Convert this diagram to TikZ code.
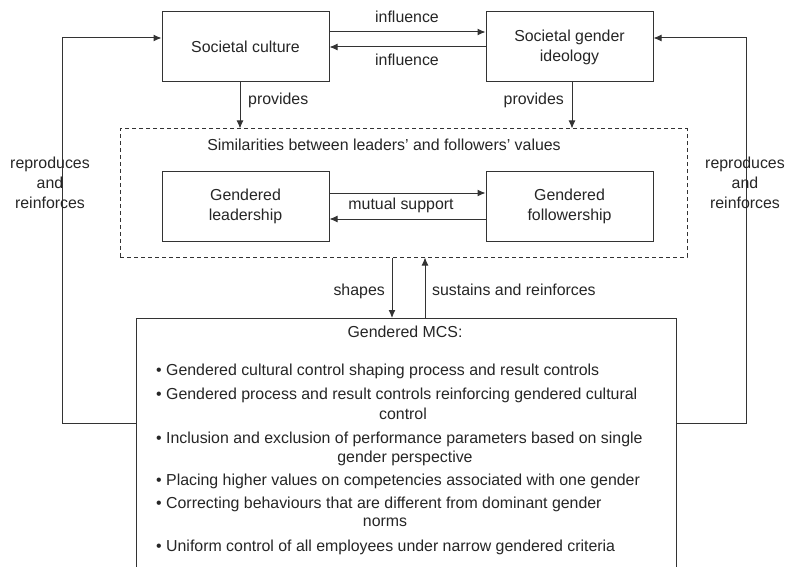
\documentclass[tikz,border=0pt]{standalone}
\usepackage{fontspec}
\setmainfont{Liberation Sans}
\usetikzlibrary{arrows.meta}
\begin{document}
\begin{tikzpicture}[x=1pt,y=-1pt,
  every node/.style={font=\fontsize{15.9}{20}\selectfont, text=black!85},
  box/.style={draw=black!80, line width=1pt, minimum width=167pt, minimum height=70pt, align=center, inner sep=0pt},
  dbox/.style={draw=black!80, line width=1pt, dashed, dash pattern=on 4pt off 3pt, minimum width=567pt, minimum height=128pt, inner sep=0pt},
  conn/.style={draw=black!80, line width=1pt},
  arr/.style={conn, -{Latex[length=8pt,width=7pt]}},
  lbl/.style={inner sep=0pt},
  item/.style={inner sep=0pt, anchor=mid west},
  cont/.style={inner sep=0pt, anchor=mid}]
\useasboundingbox (0,0) rectangle (787,567);
\clip (0,0) rectangle (787,567);
\fill[white] (0,0) rectangle (787,567);

% boxes
\node[box] (cult) at (245.5,47) {Societal culture};
\node[box] (ideo) at (569.5,47) {Societal gender\\ideology};
\node[dbox] (sim) at (403.5,193) {};
\node[box] (lead) at (245.5,206) {Gendered\\leadership};
\node[box] (foll) at (569.5,206) {Gendered\\followership};
\node[draw=black!80, line width=1pt, minimum width=540pt, minimum height=280pt, anchor=north, inner sep=0pt] (mcs) at (406,318) {};

% influence
\draw[arr] (cult.east |- 0,32) -- (ideo.west |- 0,32);
\draw[arr] (ideo.west |- 0,47) -- (cult.east |- 0,47);
\node[lbl] (inf1) at (407,17) {influence};
\node[lbl] (inf2) at (407,60) {influence};

% provides
\draw[arr] (cult.south -| 240,0) -- (sim.north -| 240,0);
\draw[arr] (ideo.south -| 572,0) -- (sim.north -| 572,0);
\node[lbl, anchor=mid west] (prov1) at (248,102) {provides};
\node[lbl, anchor=mid east] (prov2) at (564,102) {provides};

% similarities
\node[lbl] (simt) at (384,145) {Similarities between leaders’ and followers’ values};

% mutual support
\draw[arr] (lead.east |- 0,193) -- (foll.west |- 0,193);
\draw[arr] (foll.west |- 0,219) -- (lead.east |- 0,219);
\node[lbl, anchor=mid] (mut) at (401,207) {mutual support};

% shapes / sustains
\draw[arr] (sim.south -| 392,0) -- (mcs.north -| 392,0);
\draw[arr] (mcs.north -| 425,0) -- (sim.south -| 425,0);
\node[lbl, anchor=mid east] (shp) at (385,293) {shapes};
\node[lbl, anchor=mid west] (sus) at (432,293) {sustains and reinforces};

% feedback loops
\draw[arr] (mcs.west |- 0,423) -- (62,423) -- (62,38) -- (cult.west |- 0,38);
\draw[arr] (mcs.east |- 0,423) -- (746,423) -- (746,38) -- (ideo.east |- 0,38);
\node[lbl, align=center] (rep1) at (50,183) {reproduces\\and\\reinforces};
\node[lbl, align=center] (rep2) at (745,183) {reproduces\\and\\reinforces};

% MCS contents
\node[lbl, anchor=mid] (mcst) at (405,335) {Gendered MCS:};
\node[item] (i1) at (156,373) {\textbullet\ Gendered cultural control shaping process and result controls};
\node[item] (i2) at (156,397) {\textbullet\ Gendered process and result controls reinforcing gendered cultural};
\node[cont] (i2b) at (403,417) {control};
\node[item] (i3) at (156,441) {\textbullet\ Inclusion and exclusion of performance parameters based on single};
\node[cont] (i3b) at (405,460) {gender perspective};
\node[item] (i4) at (156,483) {\textbullet\ Placing higher values on competencies associated with one gender};
\node[item] (i5) at (156,506) {\textbullet\ Correcting behaviours that are different from dominant gender};
\node[cont] (i5b) at (385,524) {norms};
\node[item] (i6) at (156,549) {\textbullet\ Uniform control of all employees under narrow gendered criteria};
\end{tikzpicture}
\end{document}
